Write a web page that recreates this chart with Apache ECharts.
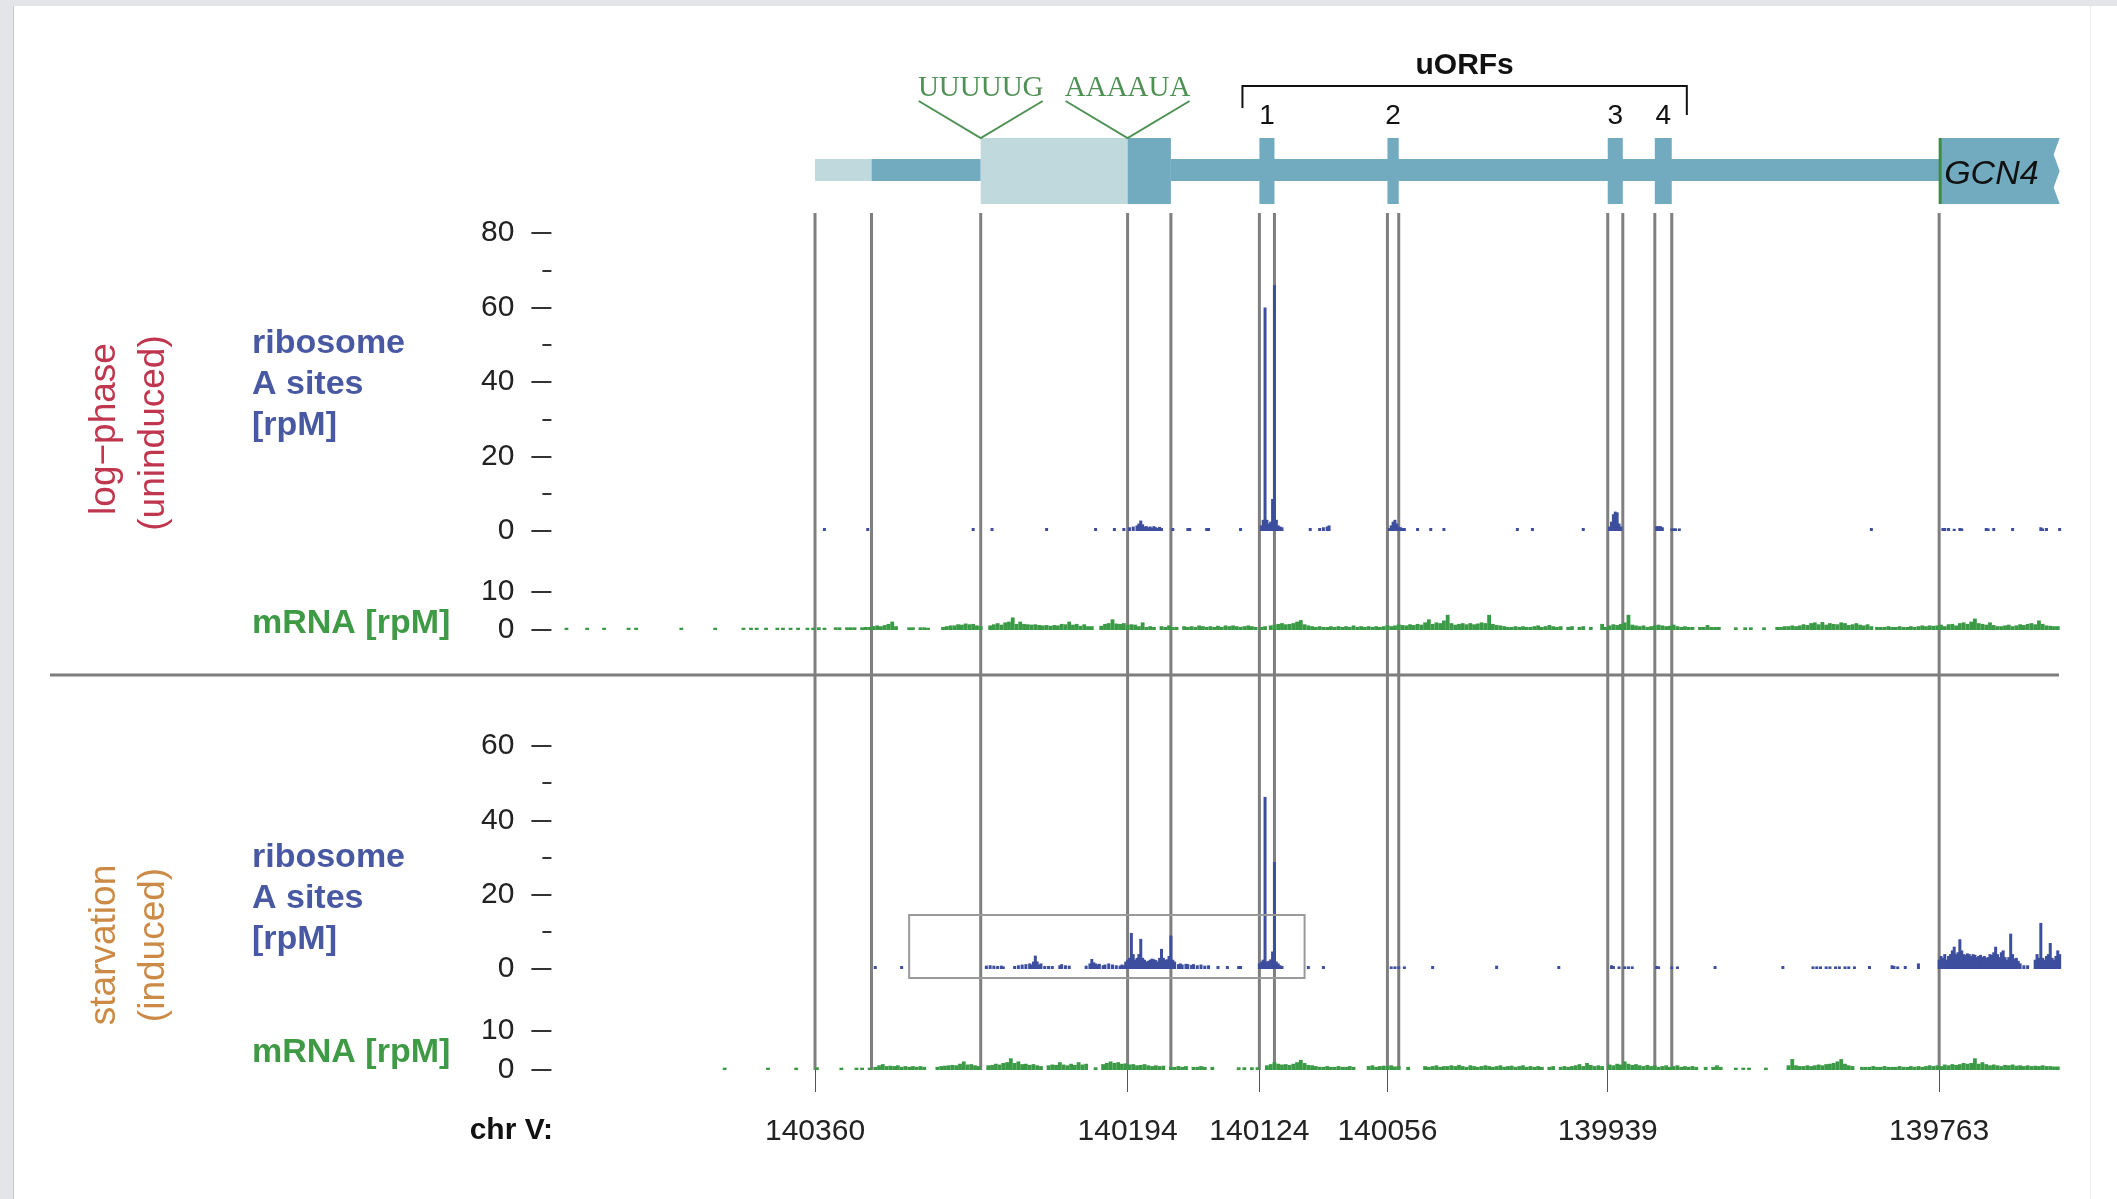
<!DOCTYPE html>
<html><head><meta charset="utf-8">
<script src="https://cdn.jsdelivr.net/npm/echarts@6/dist/echarts.min.js"></script>
<style>html,body{margin:0;padding:0;background:#fff;overflow:hidden}#chart{position:absolute;left:0;top:0;width:2117px;height:1199px}</style>
</head><body><div id="chart"></div>
<script>
// ---------- DATA (genomic coordinates on chr V) ----------
const xTickPositions = [140360, 140194, 140124, 140056, 139939, 139763];
const boundaries = [140360, 140330, 140272, 140194, 140171, 140124, 140116, 140056, 140050, 139939, 139931, 139914, 139905, 139763];
const geneParts = [
  [140360, 140330, 'thinLight'],
  [140330, 140272, 'thinDark'],
  [140171, 139763, 'thinDark'],
  [140272, 140194, 'thickLight'],
  [140194, 140171, 'thickDark'],
  [140124, 140116, 'uorf'],
  [140056, 140050, 'uorf'],
  [139939, 139931, 'uorf'],
  [139914, 139905, 'uorf']
];
const uorfLabels = ['1', '2', '3', '4'];
const cds = [[139763, 139699, 'GCN4']];
const motifs = [[140272, 'UUUUUG'], [140194, 'AAAAUA']];
const uorfBracket = [[140133, 139897, 'uORFs']];
const zoomBox = [[140310, 140100, -2.4, 14.5]];

// ribosome A-site counts, log-phase [position, rpM]
const riboLog = [
  [140355,0.8],[140332,0.8],[140276,0.8],[140266,0.8],[140237,0.8],[140211,0.8],[140201,0.8],[140196,0.8],
  [140193,1.0],[140191,1.2],[140189,1.5],[140188,2.0],[140187,2.8],[140186,1.8],[140185,1.2],[140184,1.3],
  [140183,1.0],[140182,1.2],[140181,0.9],[140180,1.3],[140179,1.0],[140178,0.8],[140177,1.1],[140176,0.8],
  [140170,0.8],[140162,0.8],[140161,0.8],[140152,0.8],[140151,0.8],[140134,0.8],
  [140123,1.5],[140122,3],[140121,60],[140120,3],[140119,2],[140118,2.5],[140117,8.6],[140116,66],
  [140115,3],[140114,1.5],[140113,1.2],[140112,1],
  [140097,0.8],[140092,0.8],[140090,1],[140088,1.2],[140087,1.5],
  [140055,0.8],[140054,1.5],[140053,2.5],[140052,3],[140051,2],[140050,1.2],[140049,1],[140048,0.8],[140047,0.8],
  [140040,0.8],[140033,0.8],[140026,0.8],[139987,0.8],[139979,0.8],[139952,0.8],
  [139938,1.2],[139937,2.5],[139936,4.5],[139935,5.2],[139934,5],[139933,2],[139932,1.2],
  [139913,1.3],[139912,1.3],[139911,1.3],[139910,1.0],[139905,0.7],[139904,0.7],[139903,0.7],[139901,0.7],
  [139799,0.8],[139761,0.8],[139760,0.8],[139758,0.8],[139755,0.6],[139752,0.8],[139751,0.7],
  [139738,0.8],[139737,0.7],[139734,0.8],[139724,0.8],[139709,1],[139708,0.7],[139706,0.8],[139699,0.8]
];

// ribosome A-site counts, starvation [position, rpM]
const riboStarv = [
  [140328,0.8],[140314,0.8],
  [140269,0.9],[140267,1],[140265,0.9],[140263,0.8],[140261,0.9],[140260,0.7],
  [140254,0.8],[140252,1],[140250,1.2],[140248,1.3],[140246,1.5],[140245,1.2],[140244,2],[140243,3.6],[140242,2],
  [140241,1.2],[140240,1.5],[140238,0.8],[140236,0.8],[140234,0.8],
  [140230,1],[140229,1.3],[140227,1],[140225,0.9],
  [140216,0.9],[140214,1.5],[140213,2.7],[140212,1.8],[140211,1.5],[140210,1.2],[140209,1.4],[140207,1],
  [140206,1.2],[140204,1.5],[140202,1.2],[140200,1.0],[140198,0.9],[140197,1.2],[140196,1],
  [140195,2],[140194,2.5],[140193,3],[140192,9.7],[140191,4],[140190,2.5],[140189,3],[140188,4],[140187,8.1],
  [140186,3],[140185,2.5],[140184,2],[140183,2.2],[140182,2.5],[140181,2.8],[140180,2.6],[140179,2.4],[140178,2],
  [140177,3],[140176,5.4],[140175,3],[140174,2.5],[140173,2.6],[140172,3.5],[140171,9],[140170,2.5],[140169,2],
  [140167,1.3],[140166,1.5],[140165,1.2],[140163,1.4],[140162,1.3],[140160,1.1],[140159,1.3],[140157,1],
  [140155,1.2],[140153,0.9],[140151,1],[140146,0.8],[140141,0.8],[140135,0.8],[140134,0.8],
  [140124,1.5],[140123,2],[140122,2.5],[140121,46.3],[140120,2],[140119,2.2],[140118,2.6],[140117,4.7],
  [140116,28.8],[140115,2],[140114,1.5],[140113,1],[140112,0.8],
  [140098,0.8],[140090,0.8],[140054,0.7],[140052,0.7],[140050,0.7],[140047,0.7],[140032,0.8],
  [139998,0.9],[139965,0.8],[139937,1],[139936,0.8],[139933,0.7],[139930,0.7],[139928,0.7],[139926,0.7],
  [139913,0.8],[139912,0.7],[139905,0.7],[139902,0.7],[139882,0.8],[139846,0.8],
  [139830,0.7],[139828,0.7],[139826,0.7],[139823,0.7],[139821,0.7],
  [139818,0.7],[139816,0.7],[139813,0.7],[139811,0.7],[139808,0.7],[139800,0.8],
  [139788,1],[139787,0.8],[139785,0.7],[139781,0.8],[139774,1.5],
  [139763,2.5],[139762,3.5],[139761,3],[139760,4],[139759,2.5],[139758,3.5],[139757,4],[139756,5],[139755,6],
  [139754,4],[139753,4.5],[139752,8],[139751,5],[139750,4],[139749,3.8],[139748,4.2],[139747,4],[139746,3.5],
  [139745,4],[139744,3.8],[139743,3.2],[139742,3.5],[139741,3.8],[139740,3.2],[139739,3.5],[139738,3],
  [139737,3.2],[139736,4],[139735,3.8],[139734,4.5],[139733,6],[139732,4],[139731,3.2],[139730,4.5],
  [139729,5],[139728,3.2],[139727,2.5],[139726,3.2],[139725,9.5],[139724,4],[139723,2.8],[139722,3],
  [139721,2.2],[139720,1.5],[139718,1],[139716,1],[139712,2.5],[139711,4],[139710,3],[139709,12.4],
  [139708,3],[139707,2.5],[139706,3.5],[139705,4],[139704,7],[139703,3],[139702,2.5],[139701,3.5],
  [139700,5],[139699,4]
];

// mRNA coverage, log-phase: [first position, values every 2 nt going downstream]
const mrnaLogSegments = [
  [140492,[0.6]],[140481,[0.6]],[140472,[0.6]],[140459,[0.6]],[140455,[0.6]],[140431,[0.6]],[140413,[0.6]],
  [140398,[0.6]],[140394,[0.6]],[140391,[0.6]],[140386,[0.6]],[140380,[0.6]],[140377,[0.6]],[140373,[0.6]],
  [140369,[0.6]],[140364,[0.6]],[140361,[0.6]],[140358,[0.7]],[140355,[0.6]],
  [140349,[0.7,0.7,0,0.7,0.7,0.7,0,0.7,0.8,0.8]],
  [140329,[1,1.2,1,1.3,1.6,2.2,1]],
  [140310,[0.7,0.7,0,0.7,0.7,0.6]],
  [140292,[0.8,1,1.2,1.2,1.5,1.4,1.7,1.5,1.6,1.2,1.0]],
  [140267,[1.2,1.5,1.8,1.4,2.0,2.2,3.3,1.6,2.2,1.6,1.5,1.4,1.5,1.3,1.2,1.3]],
  [140235,[1.1,1.3,1.2,1.6,1.5,2.2,1.4,1.6,1.1,1.5,1.0,1.0]],
  [140208,[1.1,1.6,1.8,2.8,1.7,1.6,1.8,1.3,1.5,1.4,1.0,2.0]],
  [140184,[0.8,1,0.8,0,1,0.8,1.2,0.8,0.8,0,1,0.8,1,0.8,1.2,1,0.8,1,0.8,1.1,0.8,1.2,1,1.2,1,0.8,1,1.2,1,0.8]],
  [140123,[0.8,1]],
  [140118,[1.2,1.4,1.6,1.8,1.5,1.6,1.8,2.2,2.6,1.5]],
  [140098,[1.2,1.0,0.8,1,0.8,0.8,1,0.8,1.0,0.8,1,0.8,1.2,0.8,1,0.8,1,0.8,1,0.8,1]],
  [140056,[1.3,1.0,1.2,1.5,1.3,1.2,1.5,1.3,1.6,1.4]],
  [140036,[2,2.8,1.6,2.0,1.8,2.5,4.0,1.8]],
  [140020,[1.4,1.6,1.8,1.5,1.8,1.5,1.7,2,1.8,4.0,1.6,1.3,1.2]],
  [139994,[1,0.8,0.8,1,0.8,1,0.8,0.8,1,1.2,0.8,1,1.3,1.0,0.8,1,0,0.8,1,0,0.8,1,0,0.8]],
  [139942,[1.6,0.8,1.2,1.5,1.3,1.6,2.0,4.0,1.4]],
  [139924,[1.2,1.0,1.2,0.8,1,1.2,1.4,1.2,1.0,1.1,1.4,1.0,0.8,1,0.8,0.8,0,0.8,0.8,1.3,0.8,0.8,0.8]],
  [139871,[0.7]],[139866,[0.7]],[139863,[0.7]],[139856,[0.7]],
  [139849,[0.8,0.8,1,1,1.2,1,1.2,1.5,1.3,1.8,2.0,1.5,2.1,1.4,1.8,1.6,1.5,2.0,1.8,1.3,1.5,1.8,1.4,1.2,1.5,1.0]],
  [139796,[0.8,0.8,0.8,1,0.8,0.8,1,0.8,0.8,1,0.8,1,1.2,1,1.2,1.1]],
  [139764,[1.2,1.4,1.0,1.5,1.6,1.2,1.8,2.0,1.6,2.2,3.0,1.8,1.6,1.4,2.0,1.3,1.0,1.0,1.2,1.4,1.0,1.2,1.5,1.3,1.6,1.8,1.5,2.5,1.6,1.2,1.1,1.0,1.0]]
];

// mRNA coverage, starvation
const mrnaStarvSegments = [
  [140408,[0.6]],[140385,[0.6]],[140370,[0.6]],[140359,[0.7]],[140346,[0.6]],[140338,[0.6]],[140335,[0.6]],[140331,[0.6]],
  [140328,[0.8,1.2,1.5,1,1.1,1,1.2,0.8,1,0.8,1,0.8,1,0.8]],
  [140295,[0.8,1,1.1,1.2,1.3,1.2,1.6,2.2,1.4,1.5,1.2,1.0]],
  [140268,[1.2,1.3,1.6,1.4,1.8,2.0,3.0,1.8,2.2,1.5,1.6,1.3,1.5,1.2,1.0]],
  [140236,[1.2,1.4,1.3,2.0,1.4,1.2,1.6,1.3,2.0,1.4,1.6]],
  [140211,[0.7]],
  [140207,[1.5,1.8,2.2,1.8,2.0,1.6,1.7,1.4,1.5,1.2,1.3,1.5,1.2,1.0,1.2,1.0,1.1]],
  [140171,[0.8,0.8,1,0.8,1,0,0.8,0.8,1,0.8]],
  [140149,[0.8]],[140135,[0.7]],[140132,[0.7]],[140128,[0.7]],[140125,[0.7]],
  [140120,[1.2,1.5,2.0,1.6,1.4,1.5,1.3,1.6,2.0,2.6,1.8,1.3,1.2,1.0]],
  [140092,[0.8,0.8,1,0.8,0.8,1,0.8,0.8,1,0.8]],
  [140066,[1,1.2,0.8,1,1.1,1,1.2,0.9,1]],
  [140045,[0.8]],
  [140036,[1,0.8,1,1.2,0.8,1,1,1.2,1.0,1.3,1.0,0.8,1.2,1,0.8,1,1.2,1,0.8,1,1.2,0.8,1,1.1,0.8,1,1.2,0.8,1,0.8,1,0.8,0,0.8,1,0,0.8,1.0,0.8,1]],
  [139956,[1.2,1.5,1.0,1.8,1.3,1.0,1.2,1.0]],
  [139938,[1.4,1.2,1.6,1.4,2.2,1.6,1.3,1.5,1.2,1.0,1.3,1.0,1.2,0.8,1.0,1.2,0.8,1,1.2,0.8,1,0.8,1,0.8]],
  [139887,[0.8,0,0.8,1.2,0.8]],
  [139871,[0.6]],[139867,[0.6]],[139864,[0.6]],[139855,[0.6]],
  [139843,[1.2,2.8,1.2,1,1.0,1.2,1.0,1.2,1.4,1.2,1.5,1.6,1.8,2.2,2.8,1.6,1.2,1.0]],
  [139804,[0.8,0.8,0.8,1,0.8,0.8,1,0.8,0.8,0.8,1,0.8,0.8,1,0.8,1,0.8,1,1.2,1,1.2,1,1.4,1.2,1.5,1.3,1.5,1.8,1.6,1.8,3.0,1.6,2.0,1.5,1.2,1.4,1.2,1.0,1.3,1.2,1.4,1.1,1.2,1.0,1.2,1.0,1.1,1.0,1.2,1.0,1.0,0.9,0.9]]
];

// ---------- build ----------
function segToPairs(segs) {
  const out = [];
  segs.forEach(([start, vals]) => vals.forEach((v, i) => { if (v > 0) out.push([start - 2 * i, v]); }));
  return out;
}
const mrnaLog = segToPairs(mrnaLogSegments);
const mrnaStarv = segToPairs(mrnaStarvSegments);

const X_MIN = 139690, X_MAX = 140500;
const GL = 551.4, GW = 1525.2;
const FONT = '"Liberation Sans", Arial, Helvetica, sans-serif';
const C = {
  ribo: '#3d4e9e', mrna: '#3b9a46', riboTxt: '#4858a2', mrnaTxt: '#3f9a45',
  log: '#c1364f', starv: '#cb8a45', dark: '#72abbf', light: '#bfd9dd',
  motif: '#4f9155', vline: '#7f7f7f'
};

const grids = [
  {left: GL, width: GW, top: 0, height: 1199},     // overlay (pixel y)
  {left: GL, width: GW, top: 233, height: 298},    // ribo log
  {left: GL, width: GW, top: 592, height: 38},     // mRNA log
  {left: GL, width: GW, top: 746, height: 223},    // ribo starv
  {left: GL, width: GW, top: 1031, height: 39}     // mRNA starv
];
function xAx(i, show) {
  const a = {type: 'value', gridIndex: i, min: X_MIN, max: X_MAX, inverse: true, show: !!show,
    splitLine: {show: false}, axisLine: {show: false}};
  if (show) {
    a.position = 'bottom';
    a.axisTick = {show: true, length: 22, customValues: xTickPositions, lineStyle: {color: '#555', width: 1}};
    a.axisLabel = {show: true, customValues: xTickPositions, fontSize: 30, color: '#222', margin: 47, fontFamily: FONT,
      formatter: v => String(v)};
  }
  return a;
}
function yAx(i, max, interval, minor) {
  return {type: 'value', gridIndex: i, min: 0, max: max, interval: interval, position: 'left',
    axisLine: {show: false}, splitLine: {show: false},
    axisTick: {show: true, length: 20, lineStyle: {color: '#333', width: 2}},
    minorTick: {show: minor, splitNumber: 2, length: 9, lineStyle: {color: '#333', width: 2}},
    axisLabel: {fontSize: 30, color: '#222', margin: 37, fontFamily: FONT, padding: [5, 0, 0, 0]}};
}

const option = {
  animation: false,
  backgroundColor: '#ffffff',
  grid: grids,
  xAxis: [xAx(0), xAx(1), xAx(2), xAx(3), xAx(4, true)],
  yAxis: [
    {type: 'value', gridIndex: 0, min: 0, max: 1199, inverse: true, show: false},
    yAx(1, 80, 20, true), yAx(2, 10, 10, false), yAx(3, 60, 20, true), yAx(4, 10, 10, false)
  ],
  series: [
    // gene model
    {type: 'custom', xAxisIndex: 0, yAxisIndex: 0, silent: true, z: 2,
      data: geneParts.map(d => [d[0], d[1]]),
      renderItem: (p, api) => {
        const t = geneParts[p.dataIndex][2];
        const thick = t !== 'thinLight' && t !== 'thinDark';
        const a = api.coord([api.value(0), thick ? 138 : 159]);
        const b = api.coord([api.value(1), thick ? 204 : 181]);
        const fill = (t === 'thinLight' || t === 'thickLight') ? C.light : C.dark;
        const g = {type: 'group', children: [
          {type: 'rect', shape: {x: a[0], y: a[1], width: b[0] - a[0], height: b[1] - a[1]}, style: {fill: fill}}]};
        if (t === 'uorf') {
          const idx = geneParts.filter((d, k) => d[2] === 'uorf' && k < p.dataIndex).length;
          g.children.push({type: 'text', style: {text: uorfLabels[idx], x: (a[0] + b[0]) / 2, y: 116,
            fill: '#111', font: '28px ' + FONT, textAlign: 'center', textVerticalAlign: 'middle'}});
        }
        return g;
      }},
    // GCN4 coding region
    {type: 'custom', xAxisIndex: 0, yAxisIndex: 0, silent: true, z: 3,
      data: cds.map(d => [d[0], d[1]]),
      renderItem: (p, api) => {
        const a = api.coord([api.value(0), 138]);
        const b = api.coord([api.value(1), 204]);
        const x0 = a[0], x1 = b[0];
        return {type: 'group', children: [
          {type: 'polygon', shape: {points: [[x0, 138], [x1, 138], [x1 - 6, 154.5], [x1, 171], [x1 - 6, 187.5], [x1, 204], [x0, 204]]},
            style: {fill: C.dark}},
          {type: 'line', shape: {x1: x0 + 1, y1: 138, x2: x0 + 1, y2: 204}, style: {stroke: '#3f8a45', lineWidth: 3}},
          {type: 'text', style: {text: cds[p.dataIndex][2], x: x0 + 5, y: 175, fill: '#111',
            font: 'italic 34px ' + FONT, textAlign: 'left', textVerticalAlign: 'middle'}}
        ]};
      }},
    // motif labels
    {type: 'custom', xAxisIndex: 0, yAxisIndex: 0, silent: true, z: 3,
      data: motifs.map(d => [d[0]]),
      renderItem: (p, api) => {
        const c = api.coord([api.value(0), 138]);
        return {type: 'group', children: [
          {type: 'polyline', shape: {points: [[c[0] - 62, 101], [c[0], 138], [c[0] + 62, 101]]},
            style: {stroke: C.motif, lineWidth: 2, fill: null}},
          {type: 'text', style: {text: motifs[p.dataIndex][1], x: c[0], y: 88, fill: C.motif,
            font: '29px "Liberation Serif", "Times New Roman", serif', textAlign: 'center', textVerticalAlign: 'middle'}}
        ]};
      }},
    // uORF bracket
    {type: 'custom', xAxisIndex: 0, yAxisIndex: 0, silent: true, z: 3,
      data: uorfBracket.map(d => [d[0], d[1]]),
      renderItem: (p, api) => {
        const a = api.coord([api.value(0), 85]);
        const b = api.coord([api.value(1), 85]);
        return {type: 'group', children: [
          {type: 'polyline', shape: {points: [[a[0], 108], [a[0], 86], [b[0], 86], [b[0], 115]]},
            style: {stroke: '#111', lineWidth: 2, fill: null}},
          {type: 'text', style: {text: uorfBracket[0][2], x: (a[0] + b[0]) / 2, y: 66, fill: '#111',
            font: 'bold 30px ' + FONT, textAlign: 'center', textVerticalAlign: 'middle'}}
        ]};
      }},
    // vertical feature boundary lines (drawn beneath the data tracks)
    {type: 'custom', xAxisIndex: 0, yAxisIndex: 0, silent: true, z: 1,
      data: boundaries.map(v => [v]),
      renderItem: (p, api) => {
        const a = api.coord([api.value(0), 213]);
        const b = api.coord([api.value(0), 1070]);
        return {type: 'line', shape: {x1: a[0], y1: a[1], x2: b[0], y2: b[1]}, style: {stroke: C.vline, lineWidth: 3}};
      }},
    // data tracks
    {type: 'bar', xAxisIndex: 1, yAxisIndex: 1, data: riboLog, barWidth: 3, itemStyle: {color: C.ribo}, silent: true, z: 5},
    {type: 'bar', xAxisIndex: 2, yAxisIndex: 2, data: mrnaLog, barWidth: 3.8, itemStyle: {color: C.mrna}, silent: true, z: 5},
    {type: 'bar', xAxisIndex: 3, yAxisIndex: 3, data: riboStarv, barWidth: 3, itemStyle: {color: C.ribo}, silent: true, z: 5},
    {type: 'bar', xAxisIndex: 4, yAxisIndex: 4, data: mrnaStarv, barWidth: 3.8, itemStyle: {color: C.mrna}, silent: true, z: 5},
    // highlight box in starvation ribosome panel
    {type: 'custom', xAxisIndex: 3, yAxisIndex: 3, silent: true, z: 11, clip: false,
      data: zoomBox,
      renderItem: (p, api) => {
        const a = api.coord([api.value(0), api.value(3)]);
        const b = api.coord([api.value(1), api.value(2)]);
        return {type: 'rect', shape: {x: a[0], y: a[1], width: b[0] - a[0], height: b[1] - a[1]},
          style: {fill: null, stroke: '#9a9a9a', lineWidth: 2}};
      }}
  ],
  graphic: [
    {type: 'rect', shape: {x: 0, y: 0, width: 13, height: 1199}, style: {fill: '#e3e5e9'}, silent: true},
    {type: 'rect', shape: {x: 0, y: 0, width: 2117, height: 6}, style: {fill: '#e3e5e9'}, silent: true},
    {type: 'line', shape: {x1: 13.5, y1: 6, x2: 13.5, y2: 1199}, style: {stroke: '#c6c8cc', lineWidth: 1}, silent: true},
    {type: 'line', shape: {x1: 2090.5, y1: 6, x2: 2090.5, y2: 1199}, style: {stroke: '#eeeeee', lineWidth: 1}, silent: true},
    {type: 'line', shape: {x1: 50, y1: 675, x2: 2059, y2: 675}, style: {stroke: '#7d7d7d', lineWidth: 3}, silent: true},
    {type: 'text', x: 105, y: 429, rotation: Math.PI / 2, style: {text: 'log\u2212phase', fill: C.log, font: '37px ' + FONT, textAlign: 'center', textVerticalAlign: 'middle'}},
    {type: 'text', x: 154, y: 433, rotation: Math.PI / 2, style: {text: '(uninduced)', fill: C.log, font: '37px ' + FONT, textAlign: 'center', textVerticalAlign: 'middle'}},
    {type: 'text', x: 105, y: 945, rotation: Math.PI / 2, style: {text: 'starvation', fill: C.starv, font: '37px ' + FONT, textAlign: 'center', textVerticalAlign: 'middle'}},
    {type: 'text', x: 154, y: 945, rotation: Math.PI / 2, style: {text: '(induced)', fill: C.starv, font: '37px ' + FONT, textAlign: 'center', textVerticalAlign: 'middle'}},
    {type: 'text', x: 252, y: 344, style: {text: 'ribosome', fill: C.riboTxt, font: 'bold 34px ' + FONT, textAlign: 'left', textVerticalAlign: 'middle'}},
    {type: 'text', x: 252, y: 385, style: {text: 'A sites', fill: C.riboTxt, font: 'bold 34px ' + FONT, textAlign: 'left', textVerticalAlign: 'middle'}},
    {type: 'text', x: 252, y: 426, style: {text: '[rpM]', fill: C.riboTxt, font: 'bold 34px ' + FONT, textAlign: 'left', textVerticalAlign: 'middle'}},
    {type: 'text', x: 252, y: 624, style: {text: 'mRNA [rpM]', fill: C.mrnaTxt, font: 'bold 34px ' + FONT, textAlign: 'left', textVerticalAlign: 'middle'}},
    {type: 'text', x: 252, y: 858, style: {text: 'ribosome', fill: C.riboTxt, font: 'bold 34px ' + FONT, textAlign: 'left', textVerticalAlign: 'middle'}},
    {type: 'text', x: 252, y: 899, style: {text: 'A sites', fill: C.riboTxt, font: 'bold 34px ' + FONT, textAlign: 'left', textVerticalAlign: 'middle'}},
    {type: 'text', x: 252, y: 940, style: {text: '[rpM]', fill: C.riboTxt, font: 'bold 34px ' + FONT, textAlign: 'left', textVerticalAlign: 'middle'}},
    {type: 'text', x: 252, y: 1053, style: {text: 'mRNA [rpM]', fill: C.mrnaTxt, font: 'bold 34px ' + FONT, textAlign: 'left', textVerticalAlign: 'middle'}},
    {type: 'text', x: 553, y: 1131, style: {text: 'chr V:', fill: '#111', font: 'bold 30px ' + FONT, textAlign: 'right', textVerticalAlign: 'middle'}}
  ]
};
const chart = echarts.init(document.getElementById('chart'), null, {renderer: 'canvas', width: 2117, height: 1199});
chart.setOption(option);
</script></body></html>
